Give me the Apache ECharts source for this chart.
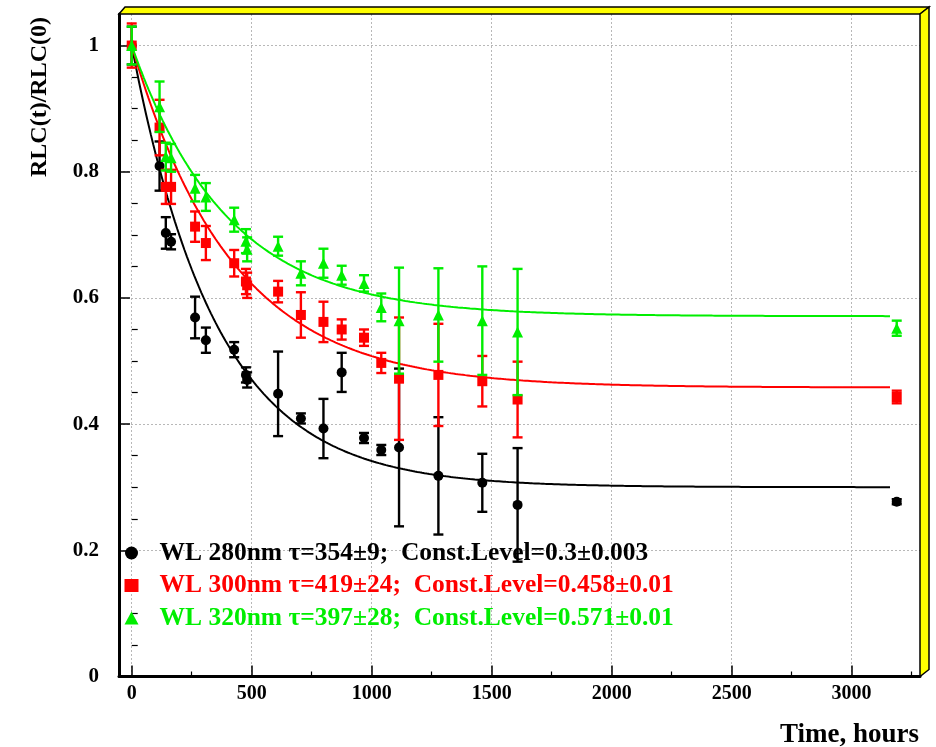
<!DOCTYPE html>
<html>
<head>
<meta charset="utf-8">
<script src="https://cdn.jsdelivr.net/npm/echarts@6/dist/echarts.min.js"></script>
<style>
  html, body { margin: 0; padding: 0; background: #ffffff; }
  #chart { width: 936px; height: 747px; }
</style>
</head>
<body>
<div id="chart"></div>
<script>
// Measurement times (hours)
const hours = [0, 116, 142, 164, 264, 309, 427, 476, 481, 610, 705, 799, 875, 968, 1040, 1114, 1278, 1461, 1608, 3188];

// Relative light collection, 280 nm
const wl280 = [1.0, 0.809, 0.703, 0.689, 0.569, 0.533, 0.518, 0.478, 0.470, 0.448, 0.409, 0.393, 0.482, 0.378, 0.359, 0.363, 0.318, 0.307, 0.272, 0.277];
const wl280Err = [0.03, 0.039, 0.025, 0.012, 0.033, 0.02, 0.012, 0.012, 0.012, 0.067, 0.008, 0.047, 0.031, 0.008, 0.008, 0.125, 0.093, 0.046, 0.09, 0.004];

// Relative light collection, 300 nm
const wl300 = [1.0, 0.870, 0.776, 0.776, 0.713, 0.687, 0.655, 0.626, 0.620, 0.610, 0.573, 0.562, 0.550, 0.537, 0.497, 0.472, 0.478, 0.468, 0.439, 0.443];
const wl300Err = [0.035, 0.044, 0.027, 0.027, 0.024, 0.027, 0.021, 0.02, 0.02, 0.017, 0.036, 0.032, 0.016, 0.013, 0.016, 0.097, 0.081, 0.04, 0.06, 0.01];

// Relative light collection, 320 nm
const wl320 = [1.0, 0.903, 0.824, 0.822, 0.774, 0.760, 0.724, 0.690, 0.677, 0.682, 0.639, 0.655, 0.636, 0.623, 0.585, 0.564, 0.573, 0.564, 0.546, 0.552];
const wl320Err = [0.03, 0.04, 0.022, 0.022, 0.021, 0.022, 0.019, 0.019, 0.019, 0.015, 0.019, 0.023, 0.015, 0.013, 0.022, 0.084, 0.074, 0.086, 0.10, 0.012];

// Exponential fit results: RLC(t)/RLC(0) = C + (1 - C) * exp(-t / tau)
const fitTau = [354, 419, 397];
const fitLevel = [0.3, 0.458, 0.571];
const fitEnd = 3160;

const seriesNames = [
  'WL 280nm \u03c4=354\u00b19;  Const.Level=0.3\u00b10.003',
  'WL 300nm \u03c4=419\u00b124;  Const.Level=0.458\u00b10.01',
  'WL 320nm \u03c4=397\u00b128;  Const.Level=0.571\u00b10.01'
];

// Axis ticks
const xTicks = [0, 500, 1000, 1500, 2000, 2500, 3000];
const xMinorTicks = [250, 750, 1250, 1750, 2250, 2750, 3250];
const yTicks = [0, 0.2, 0.4, 0.6, 0.8, 1];
const yMinorTicks = [0.05, 0.1, 0.15, 0.25, 0.3, 0.35, 0.45, 0.5, 0.55, 0.65, 0.7, 0.75, 0.85, 0.9, 0.95];

const colors = ['#000000', '#ff0000', '#00ee00'];
const symbols = ['circle', 'rect', 'triangle'];
const symbolSizes = [10, 10, 11];
const values = [wl280, wl300, wl320];
const errors = [wl280Err, wl300Err, wl320Err];

const FONT = '"Liberation Serif", "Times New Roman", serif';
const G = { left: 119, top: 14, right: 920, bottom: 676.5 };

function fitCurve(k) {
  const pts = [];
  for (let t = 0; t <= fitEnd; t += 10) {
    pts.push([t, fitLevel[k] + (1 - fitLevel[k]) * Math.exp(-t / fitTau[k])]);
  }
  return pts;
}

function errorBarRenderer(color) {
  return function (params, api) {
    const x = api.value(0), y = api.value(1), e = api.value(2);
    const hi = api.coord([x, y + e]);
    const lo = api.coord([x, y - e]);
    const hw = 5;
    const style = { stroke: color, lineWidth: 2.4 };
    return {
      type: 'group',
      children: [
        { type: 'line', shape: { x1: hi[0], y1: hi[1], x2: lo[0], y2: lo[1] }, style: style },
        { type: 'line', shape: { x1: hi[0] - hw, y1: hi[1], x2: hi[0] + hw, y2: hi[1] }, style: style },
        { type: 'line', shape: { x1: lo[0] - hw, y1: lo[1], x2: lo[0] + hw, y2: lo[1] }, style: style }
      ]
    };
  };
}

const series = [];
for (let k = 0; k < 3; k++) {
  series.push({
    name: 'fit' + k,
    type: 'line',
    data: fitCurve(k),
    showSymbol: false,
    symbol: 'none',
    smooth: false,
    lineStyle: { color: colors[k], width: 2 },
    z: 2 + k * 3,
    silent: true
  });
  series.push({
    name: 'err' + k,
    type: 'custom',
    renderItem: errorBarRenderer(colors[k]),
    data: hours.map((t, i) => [t, values[k][i], errors[k][i]]),
    encode: { x: 0, y: 1 },
    z: 3 + k * 3,
    silent: true
  });
  series.push({
    name: seriesNames[k],
    type: 'scatter',
    data: hours.map((t, i) => [t, values[k][i]]),
    symbol: symbols[k],
    symbolSize: symbolSizes[k],
    itemStyle: { color: colors[k], opacity: 1 },
    z: 4 + k * 3
  });
}

const gridLine = { show: true, lineStyle: { color: '#b8b8b8', width: 1, type: [2, 2] } };
const plainNumber = v => String(+v.toFixed(3));

const option = {
  backgroundColor: '#ffffff',
  animation: false,
  grid: { left: G.left, top: G.top, width: G.right - G.left, height: G.bottom - G.top, containLabel: false },
  xAxis: [
    {
      type: 'value', min: -53, max: 3285,
      axisLine: { show: true, onZero: false, lineStyle: { color: '#000', width: 3 } },
      axisTick: { show: true, inside: true, length: 11, customValues: xTicks, lineStyle: { color: '#000', width: 1.5 } },
      axisLabel: { show: true, customValues: xTicks, formatter: plainNumber, margin: 7, color: '#000', fontFamily: FONT, fontWeight: 'bold', fontSize: 20 },
      splitLine: gridLine
    },
    {
      type: 'value', min: -53, max: 3285, position: 'bottom',
      axisLine: { show: false },
      axisTick: { show: true, inside: true, length: 5, customValues: xMinorTicks, lineStyle: { color: '#000', width: 1.2 } },
      axisLabel: { show: false },
      splitLine: { show: false }
    }
  ],
  yAxis: [
    {
      type: 'value', min: 0, max: 1.05,
      axisLine: { show: true, onZero: false, lineStyle: { color: '#000', width: 3 } },
      axisTick: { show: true, inside: true, length: 11, customValues: yTicks, lineStyle: { color: '#000', width: 1.5 } },
      axisLabel: { show: true, customValues: yTicks, formatter: plainNumber, margin: 20, color: '#000', fontFamily: FONT, fontWeight: 'bold', fontSize: 21 },
      splitLine: gridLine
    },
    {
      type: 'value', min: 0, max: 1.05, position: 'left',
      axisLine: { show: false },
      axisTick: { show: true, inside: true, length: 6, customValues: yMinorTicks, lineStyle: { color: '#000', width: 1.2 } },
      axisLabel: { show: false },
      splitLine: { show: false }
    }
  ],
  legend: {
    orient: 'vertical',
    left: 124.5,
    top: 540,
    padding: 0,
    itemWidth: 14,
    itemHeight: 13,
    itemGap: 6.5,
    selectedMode: false,
    textStyle: { fontFamily: FONT, fontWeight: 'bold', fontSize: 25.5, padding: [0, 0, 0, 16] },
    data: seriesNames.map((n, k) => ({ name: n, textStyle: { color: colors[k] } }))
  },
  graphic: [
    {
      type: 'polygon', z: 100,
      shape: { points: [[G.left, G.top], [G.left + 6, G.top - 7], [G.right + 9, G.top - 7], [G.right, G.top]] },
      style: { fill: '#ffff00', stroke: '#000', lineWidth: 1.5 }
    },
    {
      type: 'polygon', z: 100,
      shape: { points: [[G.right, G.top], [G.right + 9, G.top - 7], [G.right + 9, G.bottom - 7], [G.right, G.bottom]] },
      style: { fill: '#ffff00', stroke: '#000', lineWidth: 1.5 }
    },
    {
      type: 'text', z: 100,
      x: 40, y: 97, rotation: Math.PI / 2,
      style: { text: 'RLC(t)/RLC(0)', fill: '#000', font: 'bold 24px ' + FONT, textAlign: 'center', textVerticalAlign: 'middle' }
    },
    {
      type: 'text', z: 100,
      x: 919, y: 735,
      style: { text: 'Time, hours', fill: '#000', font: 'bold 27px ' + FONT, textAlign: 'right', textVerticalAlign: 'middle' }
    }
  ],
  series: series
};

const chart = echarts.init(document.getElementById('chart'), null, { renderer: 'canvas' });
chart.setOption(option);
</script>
</body>
</html>
